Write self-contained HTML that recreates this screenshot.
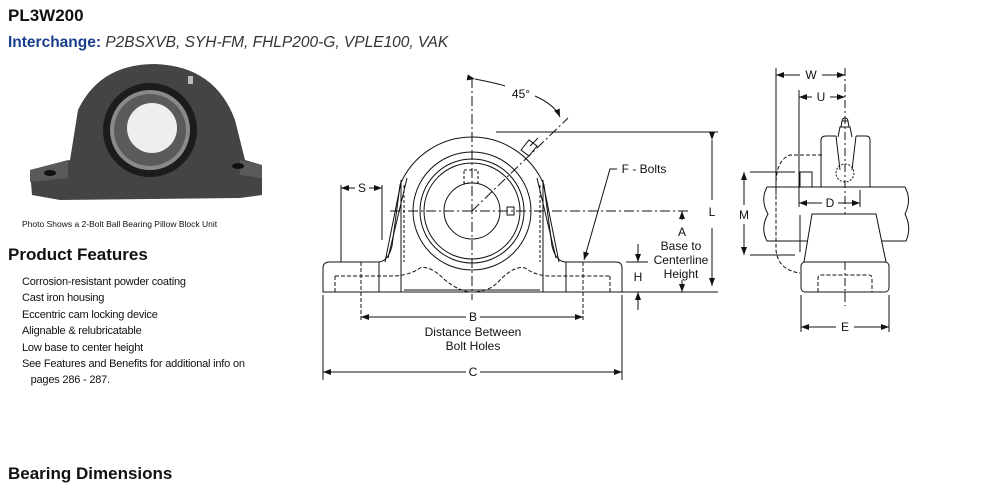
<!DOCTYPE html>
<html><head><meta charset="utf-8"><style>
html,body{margin:0;padding:0;background:#fff;}
body{width:984px;height:482px;overflow:hidden;position:relative;font-family:"Liberation Sans",Arial,sans-serif;}
.t{position:absolute;white-space:nowrap;}
</style></head><body>
<div class="t" style="left:8px;top:6px;font-size:17px;font-weight:bold;color:#111;">PL3W200</div>
<div class="t" style="left:8px;top:34px;font-size:15.5px;color:#333;"><b style="color:#1b3f8f">Interchange:</b> <i>P2BSXVB, SYH-FM, FHLP200-G, VPLE100, VAK</i></div>
<div class="t" style="left:22px;top:219px;font-size:8.5px;color:#111;">Photo Shows a 2-Bolt Ball Bearing Pillow Block Unit</div>
<div class="t" style="left:8px;top:245px;font-size:17px;font-weight:bold;color:#111;">Product Features</div>
<div class="t" style="left:22px;top:274px;font-size:11px;letter-spacing:-0.2px;line-height:16.4px;color:#111;">Corrosion-resistant powder coating<br>Cast iron housing<br>Eccentric cam locking device<br>Alignable &amp; relubricatable<br>Low base to center height<br>See Features and Benefits for additional info on<br>&nbsp;&nbsp;&nbsp;pages 286 - 287.</div>
<div class="t" style="left:8px;top:464px;font-size:17px;font-weight:bold;color:#111;">Bearing Dimensions</div>
<svg width="984" height="482" style="position:absolute;left:0;top:0" xmlns="http://www.w3.org/2000/svg">
<defs><marker id="ar" markerWidth="8" markerHeight="6" refX="8" refY="3" orient="auto" markerUnits="userSpaceOnUse"><path d="M0,0 L8,3 L0,6 z" fill="#111"/></marker></defs>
<g>
<path d="M30,170 L70,160 L78,110 Q100,64 155,64 Q215,66 235,120 L245,160 L262,165 L262,195 L240,198 L60,200 L32,195 Z" fill="#444"/>
<path d="M30,170 L68,160 L68,178 L30,182 Z" fill="#5a5a5a"/>
<path d="M262,165 L240,160 L240,175 L262,178 Z" fill="#5a5a5a"/>
<ellipse cx="50" cy="173" rx="6" ry="3" fill="#111"/>
<ellipse cx="238" cy="166" rx="6" ry="3" fill="#111"/>
<circle cx="150" cy="130" r="47" fill="#1c1c1c"/>
<circle cx="150" cy="130" r="40" fill="#8a8a8a"/>
<circle cx="150" cy="130" r="36" fill="#5a5a5a"/>
<circle cx="152" cy="128" r="25" fill="#eee"/>
<rect x="188" y="76" width="5" height="8" fill="#bbb"/>
</g>
<g stroke="#111" fill="none" stroke-width="1">
<path d="M323,292 L323,268 Q323,262 330,262 L378,262 Q388,262 392,246 L400,185 A78,78 0 0 1 544,185 L552,246 Q556,262 566,262 L616,262 Q622,262 622,268 L622,292 Z"/>
<path d="M407,178 L388,258 M537,178 L556,258"/>
<path d="M401,182 L385,262 M543,182 L559,262"/>
<line x1="401" y1="180" x2="401" y2="292"/><line x1="543" y1="180" x2="543" y2="292"/>
<line x1="404" y1="290" x2="540" y2="290"/>
<path d="M335,276 L395,276 Q410,275 420,268 Q430,265 445,280 Q460,292 472,292 Q490,292 500,280 Q515,265 525,268 Q535,275 548,276 L610,276" stroke-dasharray="4,2"/>
<line x1="335" y1="276" x2="335" y2="292" stroke-dasharray="4,2"/><line x1="610" y1="276" x2="610" y2="292" stroke-dasharray="4,2"/>
<line x1="361" y1="262" x2="361" y2="320" stroke-dasharray="4,2"/><line x1="583" y1="262" x2="583" y2="320" stroke-dasharray="4,2"/>
<line x1="379" y1="262" x2="379" y2="292"/><line x1="566" y1="262" x2="566" y2="292"/>
<line x1="404" y1="185" x2="404" y2="262" stroke-dasharray="3,2"/><line x1="540" y1="185" x2="540" y2="262" stroke-dasharray="3,2"/>
<circle cx="472" cy="211" r="59"/><circle cx="472" cy="211" r="52"/><circle cx="472" cy="211" r="48"/><circle cx="472" cy="211" r="28"/>
<rect x="464" y="170" width="14" height="13" stroke-dasharray="3,2"/>
<rect x="507" y="207" width="7" height="8"/>
<path d="M521,150 l8,-10 l8,6 l-8,10 z"/><path d="M530,146 l8,-8"/>
<g stroke-dasharray="10,3,2,3">
<line x1="472" y1="78" x2="472" y2="300"/>
<line x1="390" y1="211" x2="690" y2="211"/>
<line x1="472" y1="211" x2="568" y2="118"/>
</g>
<path d="M475,79 Q500,84 505,86" marker-start="url(#ar)"/>
<path d="M535,96 Q555,105 560,117" marker-end="url(#ar)"/>
<line x1="496" y1="132" x2="718" y2="132"/>
<line x1="712" y1="140" x2="712" y2="200" marker-start="url(#ar)"/>
<line x1="712" y1="228" x2="712" y2="286" marker-end="url(#ar)"/>
<line x1="622" y1="292" x2="718" y2="292"/>
<line x1="682" y1="220" x2="682" y2="211" marker-end="url(#ar)"/>
<line x1="682" y1="280" x2="682" y2="292" marker-end="url(#ar)"/>
<line x1="626" y1="262" x2="648" y2="262"/>
<line x1="638" y1="244" x2="638" y2="262" marker-end="url(#ar)"/>
<line x1="638" y1="310" x2="638" y2="292" marker-end="url(#ar)"/>
<line x1="466" y1="317" x2="361" y2="317" marker-end="url(#ar)"/>
<line x1="480" y1="317" x2="583" y2="317" marker-end="url(#ar)"/>
<line x1="323" y1="295" x2="323" y2="380"/><line x1="622" y1="295" x2="622" y2="380"/>
<line x1="466" y1="372" x2="323" y2="372" marker-end="url(#ar)"/>
<line x1="480" y1="372" x2="622" y2="372" marker-end="url(#ar)"/>
<line x1="341" y1="185" x2="341" y2="262"/><line x1="382" y1="185" x2="382" y2="240"/>
<line x1="355" y1="188" x2="341" y2="188" marker-end="url(#ar)"/>
<line x1="369" y1="188" x2="382" y2="188" marker-end="url(#ar)"/>
<path d="M617,169 L610,169 L584,260" marker-end="url(#ar)"/>
<line x1="776" y1="68" x2="776" y2="195"/><line x1="799" y1="90" x2="799" y2="207"/>
<line x1="845" y1="68" x2="845" y2="300" stroke-dasharray="8,3,2,3"/>
<line x1="800" y1="75" x2="776" y2="75" marker-end="url(#ar)"/><line x1="822" y1="75" x2="845" y2="75" marker-end="url(#ar)"/>
<line x1="812" y1="97" x2="799" y2="97" marker-end="url(#ar)"/><line x1="830" y1="97" x2="845" y2="97" marker-end="url(#ar)"/>
<path d="M821,187 L821,140 Q821,136 826,136 L836,136 M856,136 L866,136 Q870,136 870,140 L870,187"/>
<path d="M838,137 l2,-10 l10,0 l2,10 M841,127 l1,-6 l6,0 l1,6 M842,121 a3,3 0 0 1 6,0"/>
<path d="M836,136 L840,170 M856,136 L852,170"/>
<circle cx="845" cy="173" r="9" stroke-dasharray="2,1.5"/>
<rect x="800" y="172" width="12" height="15"/>
<path d="M776,187 L767,187 Q760,200 768,214 Q760,228 767,241 L906,241 Q912,228 905,214 Q912,200 905,187 Z"/>
<path d="M822,155 L790,155 Q776,160 776,185 L776,250 Q778,270 800,273" stroke-dasharray="4,2"/>
<path d="M812,214 L876,214 L886,262 L804,262 Z" fill="#fff"/>
<path d="M800,215 L800,252"/>
<rect x="801" y="262" width="88" height="30" rx="4" fill="#fff"/>
<path d="M818,292 L818,278 Q818,275 822,275 L868,275 Q872,275 872,278 L872,292" stroke-dasharray="4,2"/>
<line x1="845" y1="262" x2="845" y2="306" stroke-dasharray="8,3,2,3"/>
<line x1="750" y1="172" x2="795" y2="172"/><line x1="750" y1="255" x2="795" y2="255"/>
<line x1="744" y1="205" x2="744" y2="172" marker-end="url(#ar)"/><line x1="744" y1="224" x2="744" y2="255" marker-end="url(#ar)"/>
<line x1="860" y1="190" x2="860" y2="207"/>
<line x1="822" y1="203" x2="799" y2="203" marker-end="url(#ar)"/><line x1="838" y1="203" x2="860" y2="203" marker-end="url(#ar)"/>
<line x1="801" y1="295" x2="801" y2="332"/><line x1="889" y1="295" x2="889" y2="332"/>
<line x1="836" y1="327" x2="801" y2="327" marker-end="url(#ar)"/><line x1="854" y1="327" x2="889" y2="327" marker-end="url(#ar)"/>
</g>
<g font-family="Liberation Sans, Arial, sans-serif" font-size="12" fill="#111" text-anchor="middle">
<text x="521" y="98">45°</text>
<text x="644" y="173">F - Bolts</text>
<text x="712" y="216">L</text>
<text x="682" y="236">A</text>
<text x="681" y="250">Base to</text>
<text x="681" y="264">Centerline</text>
<text x="681" y="278">Height</text>
<text x="638" y="281">H</text>
<text x="473" y="321">B</text>
<text x="473" y="336">Distance Between</text>
<text x="473" y="350">Bolt Holes</text>
<text x="473" y="376">C</text>
<text x="362" y="192">S</text>
<text x="811" y="79">W</text>
<text x="821" y="101">U</text>
<text x="830" y="207">D</text>
<text x="744" y="219">M</text>
<text x="845" y="331">E</text>
</g>
</svg>
</body></html>
